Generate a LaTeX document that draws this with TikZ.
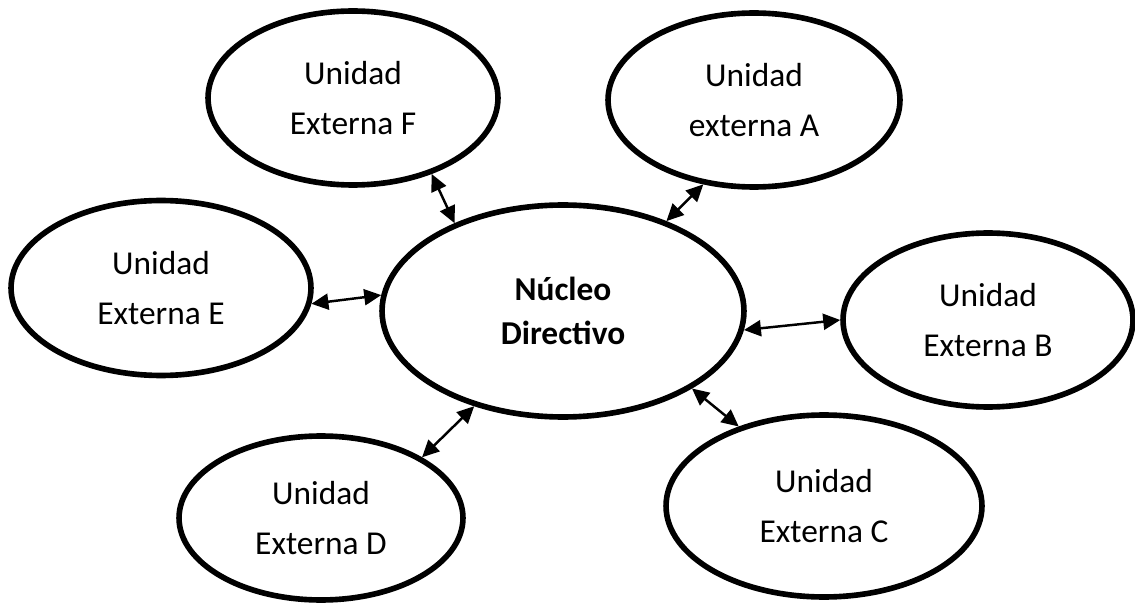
\documentclass[tikz,border=0pt]{standalone}
\usepackage{fontspec}
\setmainfont{Carlito}
\usetikzlibrary{shapes.geometric,arrows.meta}
\begin{document}
\begin{tikzpicture}[x=0.02cm,y=-0.02cm,
		unidad/.style={draw,ellipse,line width=3.2pt,inner sep=0pt,align=center,font=\fontsize{19}{28}\selectfont},
		enlace/.style={{Triangle[length=3.4mm,width=3.2mm]}-{Triangle[length=3.4mm,width=3.2mm]},line width=1.4pt}]
	\useasboundingbox (0,0) rectangle (1135,604);
	\node[unidad,minimum width=7.24cm,minimum height=4.24cm,font=\fontsize{19}{25}\selectfont\bfseries](nucleo) at (563,311){Núcleo\\Directivo};
	\node[unidad,minimum width=5.8cm,minimum height=3.48cm](F) at (353,98){Unidad\\Externa F};
	\node[unidad,minimum width=5.84cm,minimum height=3.48cm](A) at (754,100){Unidad\\externa A};
	\node[unidad,minimum width=6cm,minimum height=3.5cm](E) at (161,288){Unidad\\Externa E};
	\node[unidad,minimum width=5.8cm,minimum height=3.48cm](B) at (988,320){Unidad\\Externa B};
	\node[unidad,minimum width=6.32cm,minimum height=3.64cm](C) at (824,506){Unidad\\Externa C};
	\node[unidad,minimum width=5.68cm,minimum height=3.28cm](D) at (321,518){Unidad\\Externa D};
	\draw[enlace](nucleo.141)--(F.-44);
	\draw[enlace](nucleo.41)--(A.-121);
	\draw[enlace](nucleo.175)--(E.-6);
	\draw[enlace](nucleo.-6)--(B.180);
	\draw[enlace](nucleo.-31)--(C.137);
	\draw[enlace](nucleo.-133)--(D.31);
\end{tikzpicture}
\end{document}
